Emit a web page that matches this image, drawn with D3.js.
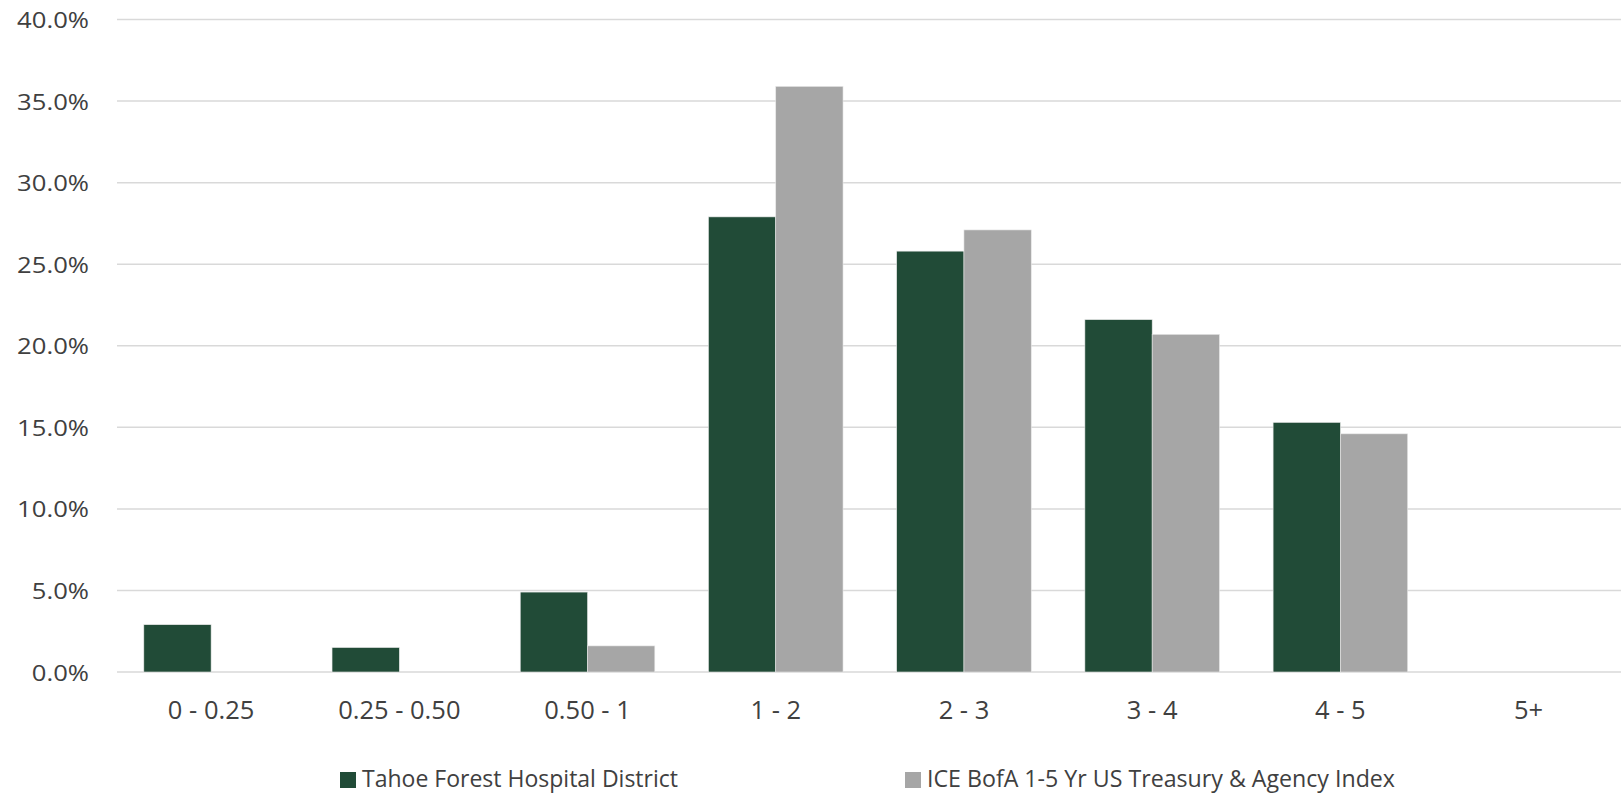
<!DOCTYPE html>
<html><head><meta charset="utf-8">
<script src="https://cdn.jsdelivr.net/npm/d3@7"></script>
<style>body{margin:0;background:#fff}svg{display:block}</style>
</head><body>
<svg id="c" width="1621" height="795"></svg>
<script>
const categories = ["0 - 0.25","0.25 - 0.50","0.50 - 1","1 - 2","2 - 3","3 - 4","4 - 5","5+"];
const seriesNames = ["Tahoe Forest Hospital District","ICE BofA 1-5 Yr US Treasury & Agency Index"];
const tahoe = [2.9, 1.5, 4.9, 27.9, 25.8, 21.6, 15.3, 0];
const ice = [0, 0, 1.6, 35.9, 27.1, 20.7, 14.6, 0];
const yTicks = [0,5,10,15,20,25,30,35,40];
const colors = ["#214B37","#A6A6A6"];

(function(){
const svg = d3.select("#c");
const pLeft = 117, pRight = 1622.7, pTop = 19.5, pBottom = 672;
const x = d3.scaleBand().domain(categories).range([pLeft, pRight]).paddingInner(0.285).paddingOuter(0.1425);
const xs = d3.scaleBand().domain([0,1]).range([0, x.bandwidth()]);
const y = d3.scaleLinear().domain([0,40]).range([pBottom, pTop]);
const font = "'Open Sans', sans-serif";

svg.append("g").selectAll("line").data(yTicks).join("line")
  .attr("x1", pLeft).attr("x2", 1621)
  .attr("y1", d => y(d)).attr("y2", d => y(d))
  .attr("stroke", "#D9D9D9").attr("stroke-width", 1.5);

svg.append("g").selectAll("text").data(yTicks).join("text")
  .attr("x", 89).attr("y", d => y(d) + 8.5)
  .attr("text-anchor", "end").attr("font-family", font).attr("font-size", 21)
  .attr("fill", "#404040").text(d => d.toFixed(1) + "%")
  .each(function(){
    const w = this.getComputedTextLength();
    d3.select(this).attr("textLength", w * 1.22).attr("lengthAdjust", "spacingAndGlyphs");
  });

[tahoe, ice].forEach((vals, si) => {
  svg.append("g").selectAll("rect").data(vals.map((v,i)=>({v, c: categories[i]})).filter(d => d.v > 0)).join("rect")
    .attr("x", d => x(d.c) + xs(si)).attr("width", xs.bandwidth())
    .attr("y", d => y(d.v)).attr("height", d => y(0) - y(d.v))
    .attr("fill", colors[si]).attr("stroke", "#e8e8e8").attr("stroke-width", 0.6);
});

svg.append("g").selectAll("text").data(categories).join("text")
  .attr("x", d => x(d) + x.bandwidth()/2).attr("y", 719)
  .attr("text-anchor", "middle").attr("font-family", font).attr("font-size", 25.5)
  .attr("fill", "#404040").text(d => d);

const legX = [340, 905];
const legW = [316, 468];
seriesNames.forEach((n, i) => {
  svg.append("rect").attr("x", legX[i]).attr("y", 772).attr("width", 16).attr("height", 16).attr("fill", colors[i]);
  svg.append("text").attr("x", legX[i] + 22).attr("y", 787)
    .attr("font-family", font).attr("font-size", 24).attr("fill", "#404040")
    .attr("textLength", legW[i]).attr("lengthAdjust", "spacingAndGlyphs").text(n);
});
})();
</script>
</body></html>
